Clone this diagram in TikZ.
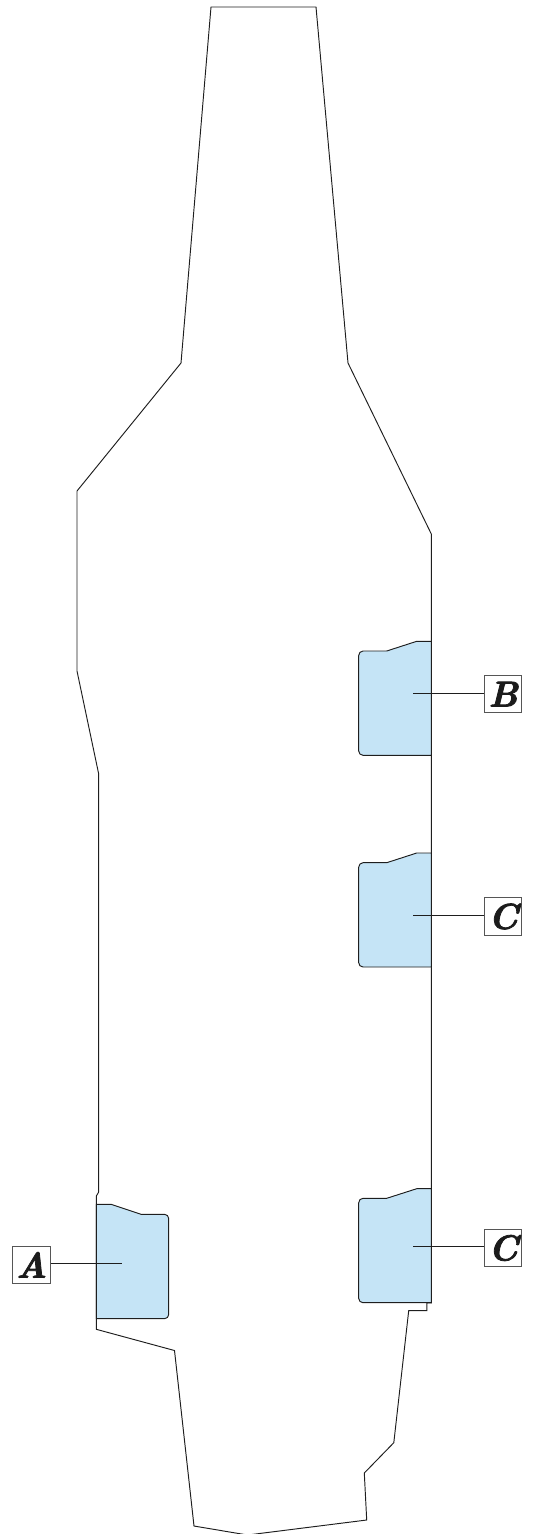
\documentclass[tikz,border=0pt]{standalone}
\usepackage{fontspec}
\newfontfamily\tagfont[FakeBold=2.2]{Latin Modern Roman}
\definecolor{blockblue}{HTML}{C5E4F6}
\definecolor{ink}{HTML}{1E1E1E}
\tikzset{
  outline/.style={draw=ink,line width=0.95pt,line join=miter},
  blockshape/.style={fill=blockblue,draw=ink,line width=0.95pt},
  tag/.style={draw=ink!75,line width=1pt,fill=white,minimum width=37.5pt,minimum height=37.5pt,inner sep=0pt,text=ink!90!black,font=\fontsize{36}{36}\selectfont\tagfont\bfseries\itshape},
  leader/.style={draw=ink,line width=0.95pt}
}
\begin{document}
\begin{tikzpicture}[x=1pt,y=-1pt]
\useasboundingbox (0,0) rectangle (535,1534);
\clip (0,0) rectangle (535,1534);
% outline
\draw[outline] (211,7) -- (316,7) -- (348,363) -- (431.3,534) -- (431.3,1303) -- (426.8,1303) -- (426.8,1310.7) -- (408.7,1310.7) -- (393.8,1442.7) -- (364.3,1473) -- (366.7,1520) -- (247.5,1535) -- (194,1526) -- (174.5,1350.5) -- (96.3,1329.3) -- (96.3,1196) -- (98.7,1192) -- (98.7,774) -- (77,671) -- (77,491) -- (181,363) -- cycle;
% block B
\draw[blockshape] (431.3,641.3) -- (416.7,641.3) -- (386.7,651) -- (363,651) to[out=180,in=90] (358.7,655.5) -- (358.7,751) to[out=270,in=180] (363,755.3) -- (431.3,755.3) -- cycle;
% block C upper
\draw[blockshape] (431.3,853) -- (416.7,853) -- (386.7,862.7) -- (363,862.7) to[out=180,in=90] (358.7,867.2) -- (358.7,962.7) to[out=270,in=180] (363,967) -- (431.3,967) -- cycle;
% block C lower
\draw[blockshape] (431.3,1188.7) -- (416.7,1188.7) -- (386.7,1198.3) -- (363,1198.3) to[out=180,in=90] (358.7,1202.8) -- (358.7,1298.4) to[out=270,in=180] (363,1302.7) -- (431.3,1302.7) -- cycle;
% block A
\draw[blockshape] (96.3,1204.3) -- (111,1204.3) -- (141,1214.3) -- (164.5,1214.3) to[out=0,in=90] (168.7,1218.5) -- (168.7,1314.5) to[out=270,in=0] (164.5,1318.7) -- (96.3,1318.7) -- cycle;
% labels
\node[tag] (tagB) at (503.2,694.2) {B};
\node[tag] (tagCa) at (503.2,916.5) {C};
\node[tag] (tagCb) at (503.2,1248) {C};
\node[tag] (tagA) at (31.7,1264.8) {A};
\coordinate (endB) at (413,693);
\coordinate (endCa) at (413,915);
\coordinate (endCb) at (413,1246.7);
\coordinate (endA) at (121.7,1263.3);
\draw[leader] (tagB.west |- endB) -- (endB);
\draw[leader] (tagCa.west |- endCa) -- (endCa);
\draw[leader] (tagCb.west |- endCb) -- (endCb);
\draw[leader] (tagA.east |- endA) -- (endA);
\end{tikzpicture}
\end{document}
